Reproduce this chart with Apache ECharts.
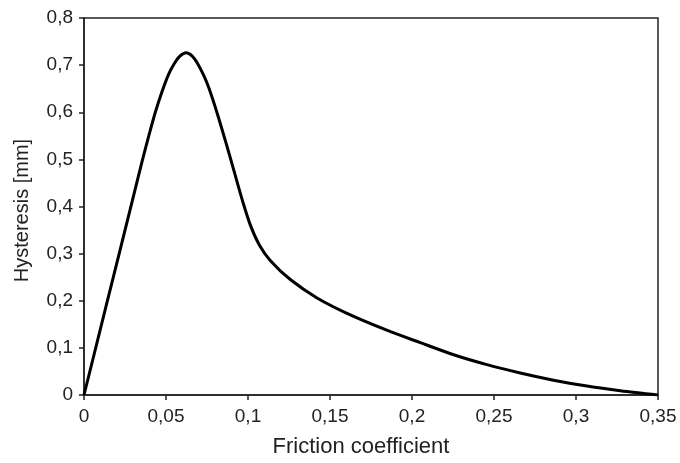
<!DOCTYPE html>
<html>
<head>
<meta charset="utf-8">
<script src="https://cdn.jsdelivr.net/npm/echarts@6/dist/echarts.min.js"></script>
<style>html,body{margin:0;padding:0;background:#fff}#c{width:680px;height:463px}</style>
</head>
<body>
<div id="c"></div>
<script>
const frictionX = [0, 0.013, 0.0296, 0.0355, 0.0395, 0.0435, 0.0475, 0.0515, 0.055, 0.0585, 0.0623, 0.066, 0.0695, 0.073, 0.0761, 0.0812, 0.087, 0.0915, 0.0964, 0.1015, 0.107, 0.1137, 0.1258, 0.1421, 0.1624, 0.185, 0.2051, 0.2254, 0.2457, 0.266, 0.2863, 0.3067, 0.327, 0.35];
const hysteresisY = [0, 0.182, 0.414, 0.497, 0.550, 0.600, 0.643, 0.680, 0.703, 0.719, 0.726, 0.719, 0.702, 0.678, 0.652, 0.598, 0.530, 0.475, 0.415, 0.360, 0.318, 0.285, 0.245, 0.206, 0.170, 0.137, 0.111, 0.0854, 0.0644, 0.0468, 0.0315, 0.0189, 0.009, 0];
const xTicks = [0, 0.05, 0.1, 0.15, 0.2, 0.25, 0.3, 0.35];
const yTicks = [0, 0.1, 0.2, 0.3, 0.4, 0.5, 0.6, 0.7, 0.8];
const xName = 'Friction coefficient';
const yName = 'Hysteresis [mm]';

const fmt = v => String(+(+v).toFixed(2)).replace('.', ',');
const axisColor = '#222';
const font = 'Liberation Sans, Arial, sans-serif';

const chart = echarts.init(document.getElementById('c'));
chart.setOption({
  animation: false,
  grid: { left: 84, top: 18, width: 574, height: 381, show: true, borderColor: axisColor, borderWidth: 1.5, backgroundColor: '#fff' },
  xAxis: {
    type: 'value', min: xTicks[0], max: xTicks[xTicks.length - 1], interval: 0.05,
    name: xName, nameLocation: 'middle', nameGap: 41,
    nameTextStyle: { fontFamily: font, fontSize: 22, color: '#222', padding: [0, 20, 0, 0] },
    axisLine: { show: true, lineStyle: { color: axisColor, width: 1.5 } },
    axisTick: { show: true, length: 5, lineStyle: { color: axisColor, width: 1.5 } },
    axisLabel: { formatter: fmt, fontFamily: font, fontSize: 19, color: '#222', margin: 12, showMaxLabel: true },
    splitLine: { show: false }
  },
  yAxis: {
    type: 'value', min: yTicks[0], max: yTicks[yTicks.length - 1], interval: 0.1,
    name: yName, nameLocation: 'middle', nameGap: 52,
    nameTextStyle: { fontFamily: font, fontSize: 20, color: '#222', padding: [0, 8, 0, 0] },
    axisLine: { show: true, lineStyle: { color: axisColor, width: 1.5 } },
    axisTick: { show: true, length: 5, lineStyle: { color: axisColor, width: 1.5 } },
    axisLabel: { formatter: fmt, fontFamily: font, fontSize: 19, color: '#222', margin: 11 },
    splitLine: { show: false }
  },
  series: [{
    type: 'line',
    data: frictionX.map((x, i) => [x, hysteresisY[i]]),
    smooth: 0.3,
    showSymbol: false,
    lineStyle: { color: '#000', width: 3 }
  }]
});
</script>
</body>
</html>
